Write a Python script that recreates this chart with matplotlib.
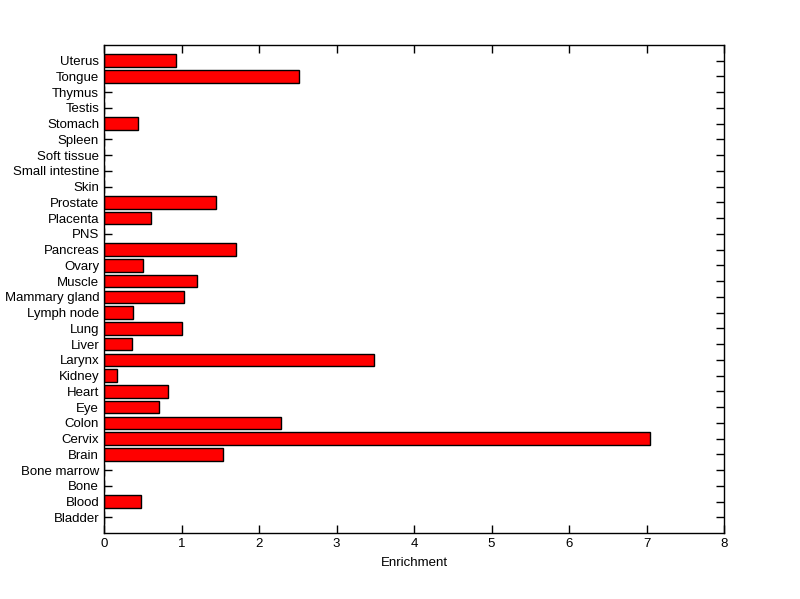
import matplotlib
matplotlib.use("Agg")
import matplotlib.pyplot as plt

tissues = ["Bladder", "Blood", "Bone", "Bone marrow", "Brain", "Cervix", "Colon", "Eye",
           "Heart", "Kidney", "Larynx", "Liver", "Lung", "Lymph node", "Mammary gland",
           "Muscle", "Ovary", "Pancreas", "PNS", "Placenta", "Prostate", "Skin",
           "Small intestine", "Soft tissue", "Spleen", "Stomach", "Testis", "Thymus",
           "Tongue", "Uterus"]
enrichment = [0, 0.48, 0, 0, 1.54, 7.05, 2.29, 0.71,
              0.82, 0.17, 3.49, 0.36, 1.00, 0.37, 1.03,
              1.20, 0.50, 1.70, 0, 0.61, 1.45, 0,
              0, 0, 0, 0.44, 0, 0,
              2.51, 0.93]

plt.rcParams['font.family'] = ['Liberation Sans', 'DejaVu Sans']
fig = plt.figure(figsize=(8, 5.99), dpi=100)
ax = fig.add_axes([0.13, 0.11, 0.775, 0.815])
ax.set_axisbelow(True)

ypos = list(range(1, len(tissues) + 1))
ax.barh(ypos, enrichment, height=0.8, color='#ff0000', edgecolor='black', linewidth=1.0)

ax.set_xlim(0, 8)
ax.set_ylim(0, len(tissues) + 1)
ax.set_yticks(ypos)
ax.set_yticklabels(tissues, fontsize=9.5)
ax.set_xticks(range(0, 9))
ax.tick_params(axis='x', labelsize=9.5)
ax.tick_params(direction='in', length=6, width=1, top=True, right=True)
for s in ax.spines.values():
    s.set_linewidth(1)
ax.set_xlabel("Enrichment", fontsize=9.5, labelpad=5)

fig.savefig("out.png", dpi=100)
